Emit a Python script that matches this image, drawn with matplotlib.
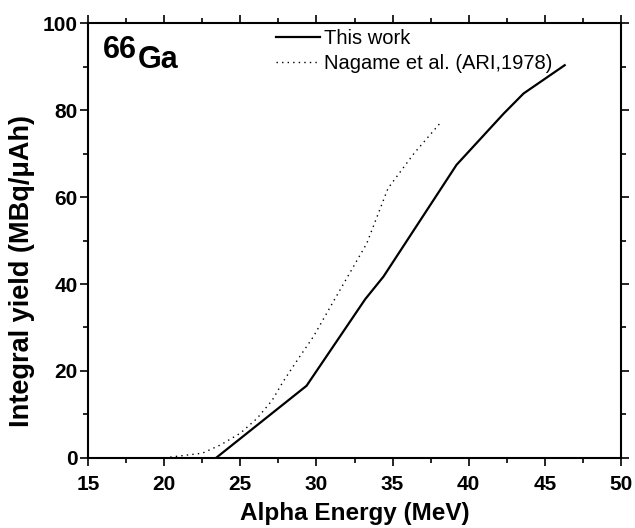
import numpy as np
import matplotlib
matplotlib.use("Agg")
from matplotlib import pyplot as plt
from matplotlib.ticker import MultipleLocator

plt.rcParams['font.family'] = ['Liberation Sans', 'DejaVu Sans']

# this work (solid)
e_this = [23.4, 29.35, 33.2, 34.4, 39.2, 42.3, 43.6, 46.3]
y_this = [0.0, 16.6, 36.5, 41.7, 67.4, 79.2, 83.8, 90.3]

# Nagame et al. (dotted)
e_nag = [20.4, 22.5, 23.7, 25.0, 26.1, 27.1, 27.8, 28.9, 29.8, 31.1, 33.3, 34.7, 36.4, 38.1]
y_nag = [0.2, 1.1, 3.0, 5.7, 9.1, 13.3, 17.5, 23.3, 27.9, 35.9, 49.3, 62.0, 70.0, 76.9]

fig = plt.figure(figsize=(6.35, 5.28), dpi=100)
ax = fig.add_axes([0.1386, 0.1326, 0.8394, 0.8238])

ax.plot(e_this, y_this, color='black', lw=1.6, label='This work')
ax.plot(e_nag, y_nag, color='black', lw=1.0, dashes=(1, 3), label='Nagame et al. (ARI,1978)')

ax.set_xlim(15, 50)
ax.set_ylim(0, 100)
ax.xaxis.set_major_locator(MultipleLocator(5))
ax.xaxis.set_minor_locator(MultipleLocator(2.5))
ax.yaxis.set_major_locator(MultipleLocator(20))
ax.yaxis.set_minor_locator(MultipleLocator(10))
ax.tick_params(which='both', direction='out', top=True, right=True, width=1.2)
ax.tick_params(which='major', length=6, labelsize=15)
ax.tick_params(axis='x', which='major', pad=6)
ax.tick_params(axis='y', which='major', pad=1.5)
ax.tick_params(which='minor', length=3.5)
for lab in ax.get_xticklabels() + ax.get_yticklabels():
    lab.set_fontweight('bold')
for sp in ax.spines.values():
    sp.set_linewidth(1.5)

ax.set_xlabel('Alpha Energy (MeV)', fontsize=17.5, fontweight='bold', labelpad=6)
ax.set_ylabel('Integral yield (MBq/\u03bcAh)', fontsize=19.5, fontweight='bold')
ax.yaxis.set_label_coords(-0.1, 0.43)

ax.text(0.028, 0.92, '66', transform=ax.transAxes, fontsize=22, fontweight='bold', va='baseline')
ax.text(0.094, 0.897, 'Ga', transform=ax.transAxes, fontsize=22, fontweight='bold', va='baseline')

ax.legend(loc='upper left', bbox_to_anchor=(0.333, 1.01), frameon=False, fontsize=14.5,
          handlelength=2.2, handletextpad=0.2, labelspacing=0.3, borderpad=0)

fig.savefig('out.png', dpi=100)
